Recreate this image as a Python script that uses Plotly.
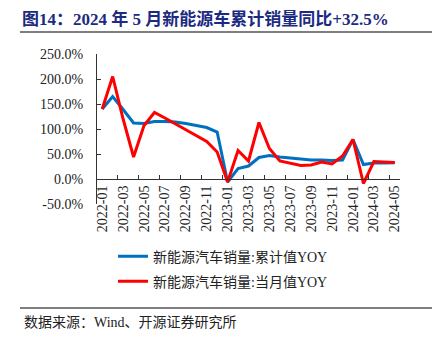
import plotly.graph_objects as go

months = ["2022-01", "2022-02", "2022-03", "2022-04", "2022-05", "2022-06",
          "2022-07", "2022-08", "2022-09", "2022-10", "2022-11", "2022-12",
          "2023-01", "2023-02", "2023-03", "2023-04", "2023-05", "2023-06",
          "2023-07", "2023-08", "2023-09", "2023-10", "2023-11", "2023-12",
          "2024-01", "2024-02", "2024-03", "2024-04", "2024-05"]

cum_yoy = [140, 165, 139, 112, 111, 115, 115, 114, 111, 107, 103, 94,
           -6, 21, 26, 43, 47, 44, 42, 39, 38, 38, 37, 38,
           79, 29, 32, 32, 32.5]

mon_yoy = [140, 205, 120, 44, 107, 133, 122, 110, 99, 87, 75, 54,
           -6, 57, 36, 113, 61, 36, 32, 27, 28, 34, 30, 46,
           79, -9, 35, 34, 33]

y_tickvals = [-50, 0, 50, 100, 150, 200, 250]
y_ticktext = ["-50.0%", "0.0%", "50.0%", "100.0%", "150.0%", "200.0%", "250.0%"]

x_tickvals = months[::2]

name_cum = "新能源汽车销量:累计值YOY"
name_mon = "新能源汽车销量:当月值YOY"
title_text = "图14：2024 年 5 月新能源车累计销量同比+32.5%"
source_text = "数据来源：Wind、开源证券研究所"

FONT = "Liberation Serif, Times New Roman, Noto Sans CJK SC, serif"
W, H = 441, 343
L, R, T, B = 97, 400, 54.3, 204.3


def px_x(x):
    return (x - L) / (R - L)


def px_y(y):
    return (B - y) / (B - T)


fig = go.Figure()
fig.add_trace(go.Scatter(x=months, y=cum_yoy, mode="lines", name=name_cum,
                         line=dict(color="#0070C0", width=3), legend="legend"))
fig.add_trace(go.Scatter(x=months, y=mon_yoy, mode="lines", name=name_mon,
                         line=dict(color="#FF0000", width=3), legend="legend2"))

ymin, ymax = -50, 250
zero_frac = (0 - ymin) / (ymax - ymin)

fig.update_layout(
    width=W, height=H,
    margin=dict(l=L, r=W - R, t=T, b=H - B, pad=0, autoexpand=False),
    paper_bgcolor="white", plot_bgcolor="white",
    font=dict(family=FONT, size=14, color="#222222"),
    showlegend=True,
    title=dict(text="<b>" + title_text + "</b>", x=22 / W, xanchor="left",
               xref="container", y=1 - 19 / H, yanchor="middle", yref="container",
               font=dict(family=FONT, size=17, color="#1c2a80")),
    xaxis=dict(type="category", range=[-0.5, len(months) - 0.5],
               tickmode="array", tickvals=x_tickvals, ticktext=x_tickvals,
               tickson="boundaries", ticks="inside", ticklen=4, tickcolor="#333333",
               tickangle=-90, showgrid=False, zeroline=False,
               showline=True, linecolor="#333333", linewidth=1,
               anchor="free", position=zero_frac, automargin=False,
               tickfont=dict(family=FONT, size=14, color="#222222")),
    yaxis=dict(range=[ymin, ymax], tickmode="array", tickvals=y_tickvals,
               ticktext=y_ticktext, ticks="inside", ticklen=4, tickcolor="#333333",
               showgrid=False, zeroline=False, showline=True, automargin=False,
               linecolor="#333333", linewidth=1, ticklabelstandoff=10,
               tickfont=dict(family=FONT, size=14, color="#222222")),
    legend=dict(x=px_x(113), xanchor="left",
                y=px_y(241), yanchor="top",
                bgcolor="rgba(0,0,0,0)", font=dict(size=14, color="#222222"),
                itemwidth=30),
    legend2=dict(x=px_x(113), xanchor="left",
                 y=px_y(266), yanchor="top",
                 bgcolor="rgba(0,0,0,0)", font=dict(size=14, color="#222222"),
                 itemwidth=30),
    shapes=[
        dict(type="line", xref="paper", yref="paper",
             x0=px_x(20), x1=px_x(432), y0=px_y(32.3), y1=px_y(32.3),
             line=dict(color="#555555", width=1.5)),
        dict(type="line", xref="paper", yref="paper",
             x0=px_x(20), x1=px_x(432), y0=px_y(308.3), y1=px_y(308.3),
             line=dict(color="#555555", width=1.5)),
    ],
    annotations=[
        dict(text=source_text, xref="paper", yref="paper",
             x=px_x(22), y=px_y(323),
             xanchor="left", yanchor="middle", showarrow=False,
             font=dict(family=FONT, size=14, color="#222222")),
    ],
)

fig.write_html("out.html")
